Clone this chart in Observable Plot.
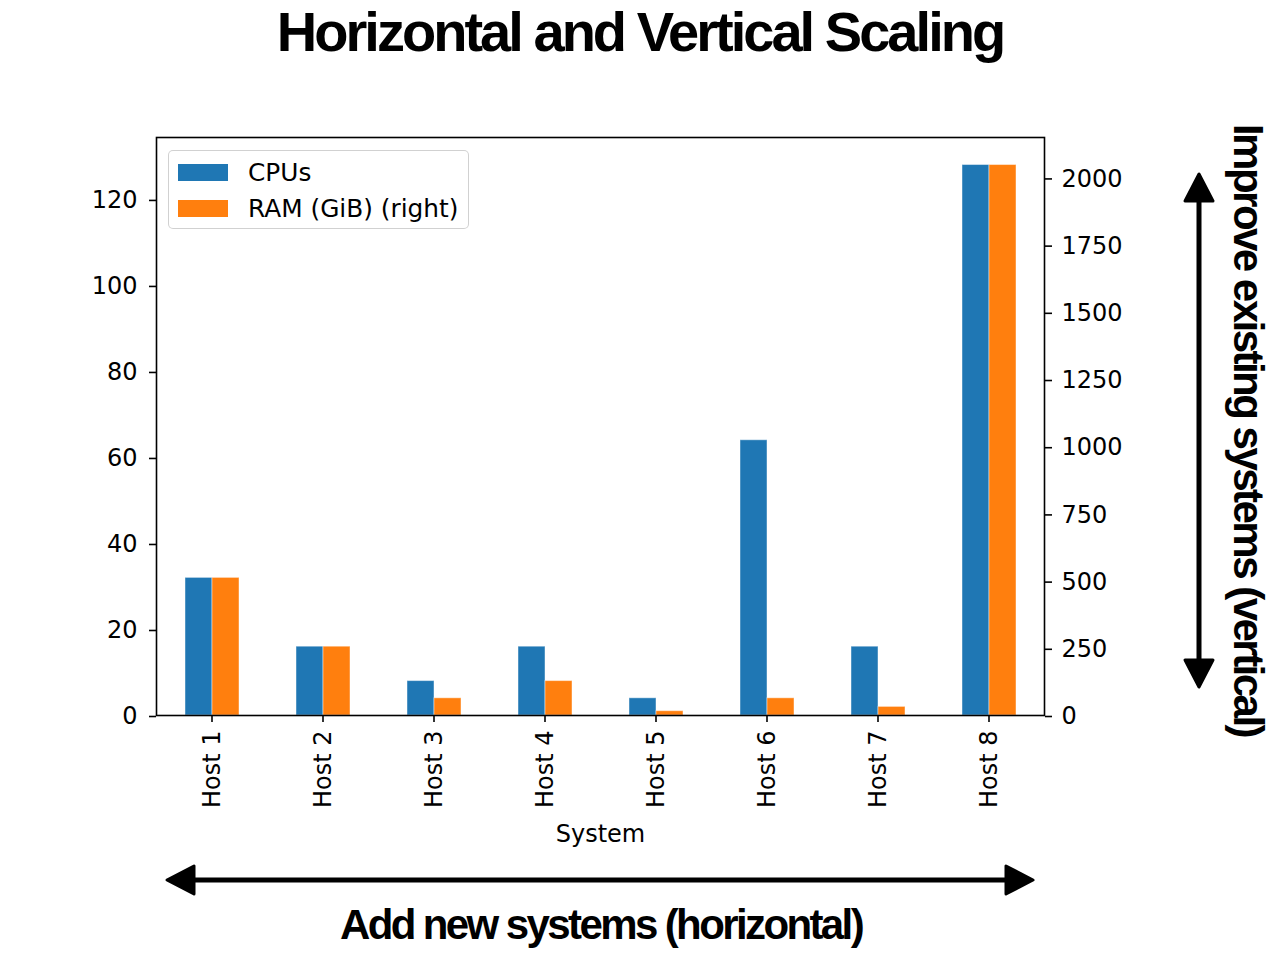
<!DOCTYPE html>
<html>
<head>
<meta charset="utf-8">
<script src="https://cdn.jsdelivr.net/npm/d3@7"></script>
<script src="https://cdn.jsdelivr.net/npm/@observablehq/plot@0.6"></script>
<style>
  body { margin: 0; background: #fff; }
  #fig { position: relative; width: 1280px; height: 954px; overflow: hidden; font-family: "DejaVu Sans", sans-serif; }
  #fig > svg.chart { position: absolute; left: 0; top: 0; }
  .heavy { position: absolute; white-space: nowrap; color: #000; font-family: "Liberation Sans", Arial, sans-serif; font-weight: bold; letter-spacing: -0.06em; }
  .legend { position: absolute; left: 168px; top: 150px; width: 299px; height: 77px; border: 1.6px solid rgba(204,204,204,0.9); border-radius: 5px; background: rgba(255,255,255,0.8); font-size: 24.8px; color: #000; }
  .legend .row { position: absolute; left: 9px; height: 24px; display: flex; align-items: center; }
  .legend .sw { width: 50px; height: 17px; margin-right: 20px; }
  .arrow { position: absolute; left: 0; top: 0; }
</style>
</head>
<body>
<div id="fig"></div>
<script>
// Hosts and their resources
const hosts = ["Host 1", "Host 2", "Host 3", "Host 4", "Host 5", "Host 6", "Host 7", "Host 8"];
const cpus = [32, 16, 8, 16, 4, 64, 16, 128];
const ramGiB = [512, 256, 64, 128, 16, 64, 32, 2048];
const series = ["CPUs", "RAM (GiB) (right)"];
const colors = ["#1f77b4", "#ff7f0e"];
const cpuTicks = [0, 20, 40, 60, 80, 100, 120];
const ramTicks = [0, 250, 500, 750, 1000, 1250, 1500, 1750, 2000];

// Both axes get 5% headroom above their maximum; RAM is drawn on the CPU
// scale through the ratio of the two maxima (the secondary axis).
const cpuMax = d3.max(cpus);
const ramMax = d3.max(ramGiB);
const k = cpuMax / ramMax;
const yTop = cpuMax * 1.05;

const rows = hosts.flatMap((h, i) => [
  {host: h, series: series[0], value: cpus[i], y: cpus[i]},
  {host: h, series: series[1], value: ramGiB[i], y: ramGiB[i] * k}
]);

const fig = document.getElementById("fig");

const chart = Plot.plot({
  width: 1280,
  height: 860,
  marginLeft: 155,
  marginRight: 236,
  marginTop: 137,
  marginBottom: 145,
  style: {fontFamily: '"DejaVu Sans", sans-serif', fontSize: "24px", color: "#000", background: "transparent", overflow: "visible"},
  fx: {domain: hosts, padding: 0, label: "System"},
  x: {domain: series, paddingInner: 0, paddingOuter: 1, axis: null},
  y: {domain: [0, yTop], axis: null, label: null},
  color: {domain: series, range: colors},
  marks: [
    Plot.barY(rows, {fx: "host", x: "series", y: "y", fill: "series", stroke: "white", strokeOpacity: 0.45, strokeWidth: 1}),
    Plot.axisY(cpuTicks, {anchor: "left", label: null, tickSize: 7, tickPadding: 12, strokeWidth: 1.6, fontSize: 24, dy: 1}),
    Plot.axisY(ramTicks.map((t) => t * k), {anchor: "right", label: null, tickSize: 7, tickPadding: 10, strokeWidth: 1.6, fontSize: 24, dy: 1, tickFormat: (d) => String(Math.round(d / k))}),
    Plot.axisFx({anchor: "bottom", tickSize: 7, tickPadding: 8, tickRotate: -90, strokeWidth: 1.6, fontSize: 24, label: "System", labelOffset: 126}),
    Plot.frame({facet: "super", stroke: "black", strokeWidth: 1.6})
  ]
});
chart.classList.add("chart");
fig.appendChild(chart);

// Legend
const legend = document.createElement("div");
legend.className = "legend";
series.forEach((s, i) => {
  const row = document.createElement("div");
  row.className = "row";
  row.style.top = (9 + i * 36) + "px";
  const sw = document.createElement("span");
  sw.className = "sw";
  sw.style.background = colors[i];
  const label = document.createElement("span");
  label.textContent = s;
  row.appendChild(sw);
  row.appendChild(label);
  legend.appendChild(row);
});
fig.appendChild(legend);

// Title and annotations
function addText(text, css) {
  const d = document.createElement("div");
  d.className = "heavy";
  d.textContent = text;
  Object.assign(d.style, css);
  fig.appendChild(d);
  return d;
}
addText("Horizontal and Vertical Scaling", {left: "0px", top: "0px", width: "1280px", textAlign: "center", fontSize: "56px", lineHeight: "64px", letterSpacing: "-0.053em"});
addText("Add new systems (horizontal)", {left: "0px", top: "904px", width: "1202px", textAlign: "center", fontSize: "42px", lineHeight: "42px", letterSpacing: "-0.062em"});
addText("Improve existing systems (vertical)", {left: "1248px", top: "430px", fontSize: "42px", lineHeight: "42px", transform: "translate(-50%, -50%) rotate(90deg)"});

// Double-headed arrows
const ns = "http://www.w3.org/2000/svg";
const arrows = document.createElementNS(ns, "svg");
arrows.setAttribute("class", "arrow");
arrows.setAttribute("width", 1280);
arrows.setAttribute("height", 954);
arrows.innerHTML = `
  <g stroke="#000" fill="#000" stroke-linejoin="round">
    <line x1="185" y1="880" x2="1015" y2="880" stroke-width="5"/>
    <polygon points="167,880 194,866 194,894" stroke-width="3"/>
    <polygon points="1033,880 1006,866 1006,894" stroke-width="3"/>
    <line x1="1199" y1="195" x2="1199" y2="665" stroke-width="5"/>
    <polygon points="1199,174 1185,201 1213,201" stroke-width="3"/>
    <polygon points="1199,687 1185,660 1213,660" stroke-width="3"/>
  </g>`;
fig.appendChild(arrows);
</script>
</body>
</html>
